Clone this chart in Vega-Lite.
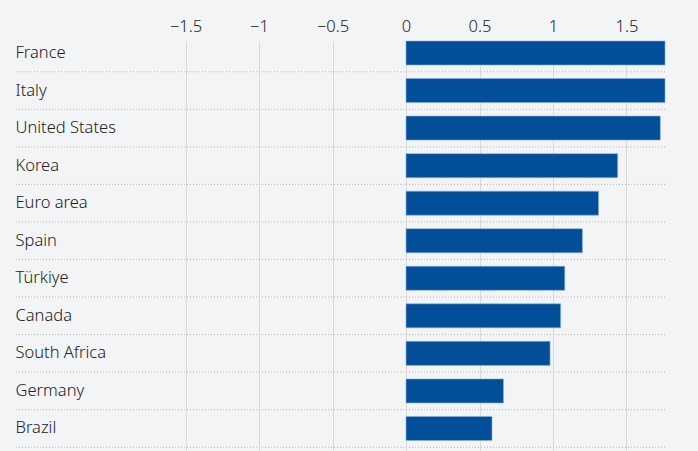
{
  "$schema": "https://vega.github.io/schema/vega-lite/v6.json",
  "autosize": "none",
  "width": 651,
  "height": 410,
  "padding": {"left": 14, "top": 41, "right": 33, "bottom": 0},
  "background": "#f3f4f6",
  "config": {
    "view": {"stroke": null},
    "font": "Noto Sans",
    "axis": {"labelFont": "Noto Sans", "labelColor": "#222222", "labelFontSize": 16.5, "labelFontWeight": 300}
  },
  "data": {
    "values": [
      {"country": "France", "value": 1.762},
      {"country": "Italy", "value": 1.762},
      {"country": "United States", "value": 1.73},
      {"country": "Korea", "value": 1.44},
      {"country": "Euro area", "value": 1.31},
      {"country": "Spain", "value": 1.2},
      {"country": "Türkiye", "value": 1.08},
      {"country": "Canada", "value": 1.052},
      {"country": "South Africa", "value": 0.98},
      {"country": "Germany", "value": 0.663},
      {"country": "Brazil", "value": 0.585}
    ]
  },
  "encoding": {
    "y": {
      "field": "country",
      "type": "nominal",
      "sort": null,
      "scale": {"paddingInner": 0.36, "paddingOuter": 0.14, "align": 0},
      "axis": {
        "title": null,
        "domain": false,
        "ticks": false,
        "grid": false,
        "labelAlign": "left",
        "labelPadding": -1
      }
    }
  },
  "layer": [
    {
      "mark": {"type": "rule", "stroke": "#b5b5b5", "strokeDash": [1, 2], "strokeWidth": 1},
      "encoding": {
        "y": {"field": "country", "type": "nominal", "sort": null, "bandPosition": 1.28}
      }
    },
    {
      "mark": {"type": "bar", "color": "#024e98", "stroke": "#8fb1d6", "strokeWidth": 0.6},
      "encoding": {
        "x": {
          "field": "value",
          "type": "quantitative",
          "scale": {"domain": [-2.667, 1.762], "nice": false, "zero": false},
          "axis": {
            "orient": "top",
            "title": null,
            "values": [-1.5, -1, -0.5, 0, 0.5, 1, 1.5],
            "format": ".1~f",
            "labelExpr": "replace(datum.label, '-', '−')",
            "domain": false,
            "ticks": false,
            "labelPadding": 7,
            "grid": true,
            "gridColor": "#d9d9d9",
            "gridWidth": 1
          }
        }
      }
    },
    {
      "mark": {"type": "rule", "stroke": "#111111", "strokeWidth": 2},
      "encoding": {"x": {"datum": 0}}
    }
  ]
}
